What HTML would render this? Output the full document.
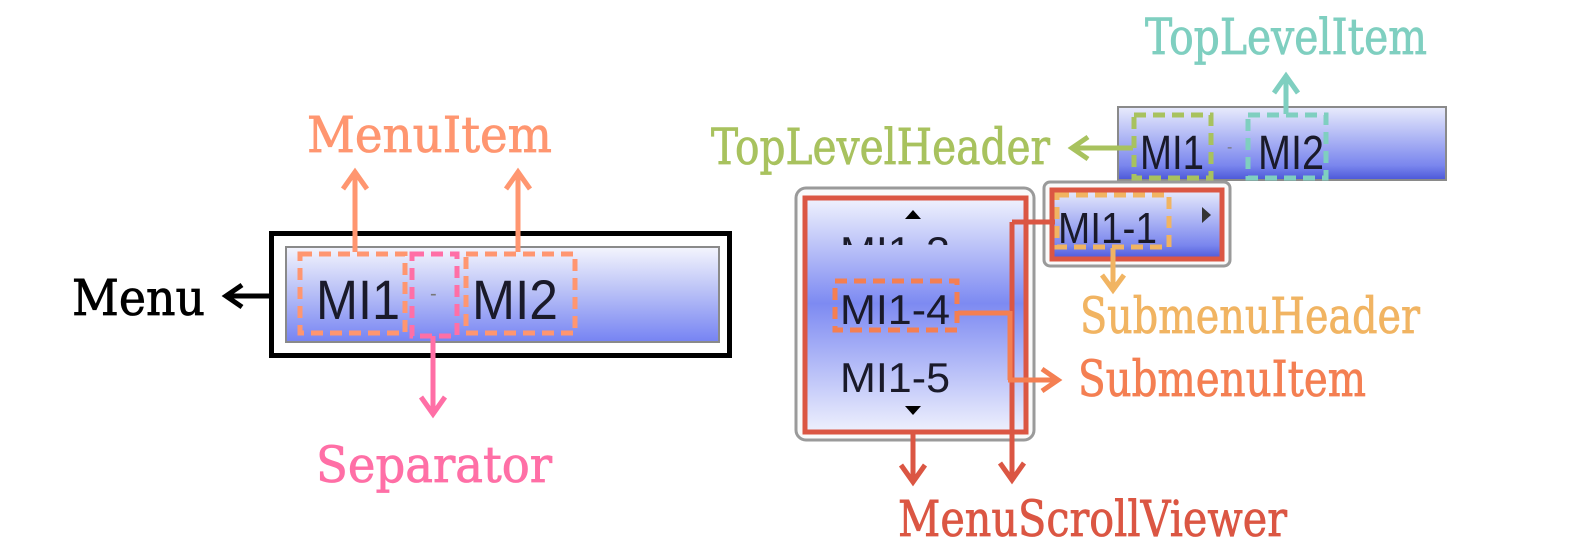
<!DOCTYPE html>
<html><head><meta charset="utf-8"><style>html,body{margin:0;padding:0;background:#fff}svg{display:block}</style></head>
<body>
<svg width="1569" height="555" viewBox="0 0 1569 555" xmlns="http://www.w3.org/2000/svg" font-family="'DejaVu Serif', 'Liberation Serif', serif">
<defs>
<linearGradient id="g1" x1="0" y1="0" x2="0" y2="1"><stop offset="0" stop-color="#f4f5fd"/><stop offset="0.5" stop-color="#b5bdf6"/><stop offset="1" stop-color="#7683f3"/></linearGradient>
<linearGradient id="g2" x1="0" y1="0" x2="0" y2="1"><stop offset="0" stop-color="#f0f2fd"/><stop offset="0.45" stop-color="#7d8af2"/><stop offset="1" stop-color="#eef0fd"/></linearGradient>
<linearGradient id="g3" x1="0" y1="0" x2="0" y2="1"><stop offset="0" stop-color="#e8ebfc"/><stop offset="0.8" stop-color="#7a86ee"/><stop offset="1" stop-color="#4b57d8"/></linearGradient>
</defs>
<g fill="none" stroke-linecap="butt" stroke-linejoin="miter">
<rect x="271.5" y="233.5" width="458" height="122" stroke="#000" stroke-width="5"/>
<rect x="286" y="247" width="433" height="95" fill="url(#g1)" stroke="#8a8a8a" stroke-width="2"/>
<rect x="300" y="254" width="105" height="79" stroke="#ff9670" stroke-width="5" stroke-dasharray="12 7"/>
<rect x="412" y="254" width="45" height="82" stroke="#ff6fa6" stroke-width="5" stroke-dasharray="12 7"/>
<rect x="466" y="254" width="109" height="79" stroke="#ff9670" stroke-width="5" stroke-dasharray="12 7"/>
<line x1="355" y1="252" x2="355" y2="172" stroke="#ff9670" stroke-width="5"/>
<polyline points="343,189 355,172 367,189" stroke="#ff9670" stroke-width="5"/>
<line x1="518" y1="252" x2="518" y2="172" stroke="#ff9670" stroke-width="5"/>
<polyline points="506,189 518,172 530,189" stroke="#ff9670" stroke-width="5"/>
<line x1="269" y1="296" x2="226" y2="296" stroke="#000" stroke-width="5"/>
<polyline points="242,285 226,296 242,307" stroke="#000" stroke-width="5"/>
<line x1="433" y1="336" x2="433" y2="414" stroke="#ff6fa6" stroke-width="5"/>
<polyline points="421,397 433,414 445,397" stroke="#ff6fa6" stroke-width="5"/>

<rect x="1118" y="107" width="328" height="73" fill="url(#g3)" stroke="#8a8a8a" stroke-width="2"/>
<rect x="1134" y="115" width="77" height="63" stroke="#a8c25e" stroke-width="5" stroke-dasharray="12 7"/>
<rect x="1248" y="115" width="78" height="63" stroke="#7fcfc0" stroke-width="5" stroke-dasharray="12 7"/>
<line x1="1286" y1="114" x2="1286" y2="76" stroke="#7fcfc0" stroke-width="5"/>
<polyline points="1274,93 1286,76 1298,93" stroke="#7fcfc0" stroke-width="5"/>
<line x1="1133" y1="148" x2="1072" y2="148" stroke="#a8c25e" stroke-width="5"/>
<polyline points="1088,137 1072,148 1088,159" stroke="#a8c25e" stroke-width="5"/>

<rect x="1044" y="182" width="186" height="84" rx="6" fill="#fafafa" stroke="#9a9a9a" stroke-width="3"/>
<rect x="1052" y="190" width="170" height="69" fill="url(#g3)" stroke="#db5643" stroke-width="5"/>
<rect x="1057" y="195" width="112" height="52" stroke="#f1b462" stroke-width="5" stroke-dasharray="12 7"/>
<polygon points="1202,207 1211,215 1202,223" fill="#333" stroke="none"/>
<line x1="1113" y1="248" x2="1113" y2="290" stroke="#f1b462" stroke-width="5"/>
<polyline points="1102,275 1113,290 1124,275" stroke="#f1b462" stroke-width="5"/>

<rect x="796" y="188" width="238" height="252" rx="10" fill="#fafafa" stroke="#9a9a9a" stroke-width="3"/>
<rect x="805" y="198" width="221" height="234" fill="url(#g2)" stroke="#db5643" stroke-width="5"/>
<polygon points="905,219 913,210 921,219" fill="#000" stroke="none"/>
<polygon points="905,406 921,406 913,415" fill="#000" stroke="none"/>
<rect x="835" y="281" width="122" height="49" stroke="#f47f52" stroke-width="5" stroke-dasharray="12 7"/>
<line x1="1055" y1="222" x2="1012" y2="222" stroke="#db5643" stroke-width="5"/>
<line x1="1012" y1="222" x2="1012" y2="480" stroke="#db5643" stroke-width="5"/>
<polyline points="1000,463 1012,480 1024,463" stroke="#db5643" stroke-width="5"/>
<line x1="958" y1="313" x2="1010" y2="313" stroke="#f47f52" stroke-width="5"/>
<line x1="1010" y1="311" x2="1010" y2="380" stroke="#f47f52" stroke-width="5"/>
<line x1="1008" y1="380" x2="1058" y2="380" stroke="#f47f52" stroke-width="5"/>
<polyline points="1042,369 1058,380 1042,391" stroke="#f47f52" stroke-width="5"/>
<line x1="913" y1="433" x2="913" y2="482" stroke="#db5643" stroke-width="5"/>
<polyline points="901,465 913,482 925,465" stroke="#db5643" stroke-width="5"/>
</g>

<g font-family="'Liberation Sans', sans-serif" fill="#1a1a2a">
<text x="316" y="319" font-size="56" textLength="84" lengthAdjust="spacingAndGlyphs">MI1</text>
<text x="430" y="300" font-size="20" fill="#777">-</text>
<text x="472" y="319" font-size="56" textLength="86" lengthAdjust="spacingAndGlyphs">MI2</text>
<text x="1140" y="169" font-size="48" textLength="64" lengthAdjust="spacingAndGlyphs">MI1</text>
<text x="1227" y="152" font-size="16" fill="#777">-</text>
<text x="1258" y="169" font-size="48" textLength="66" lengthAdjust="spacingAndGlyphs">MI2</text>
<text x="1058" y="243" font-size="44" textLength="99" lengthAdjust="spacingAndGlyphs">MI1-1</text>
<text x="840" y="324" font-size="42" textLength="110" lengthAdjust="spacingAndGlyphs">MI1-4</text>
<text x="840" y="392" font-size="42" textLength="110" lengthAdjust="spacingAndGlyphs">MI1-5</text>
<svg x="840" y="228" width="120" height="17" overflow="hidden"><text x="0" y="38" font-size="42" textLength="110" lengthAdjust="spacingAndGlyphs">MI1-3</text></svg>
</g>

<g font-size="50" stroke-width="0.8">
<text x="307" y="152" fill="#ff9670" stroke="#ff9670" textLength="245" lengthAdjust="spacingAndGlyphs">MenuItem</text>
<text x="72" y="315" fill="#000" stroke="#000" textLength="133" lengthAdjust="spacingAndGlyphs">Menu</text>
<text x="316" y="482" fill="#ff6fa6" stroke="#ff6fa6" textLength="236" lengthAdjust="spacingAndGlyphs">Separator</text>
<text x="1145" y="54" fill="#7fcfc0" stroke="#7fcfc0" textLength="282" lengthAdjust="spacingAndGlyphs">TopLevelItem</text>
<text x="711" y="164" fill="#a8c25e" stroke="#a8c25e" textLength="339" lengthAdjust="spacingAndGlyphs">TopLevelHeader</text>
<text x="1080" y="333" fill="#f1b462" stroke="#f1b462" textLength="340" lengthAdjust="spacingAndGlyphs">SubmenuHeader</text>
<text x="1078" y="396" fill="#f47f52" stroke="#f47f52" textLength="288" lengthAdjust="spacingAndGlyphs">SubmenuItem</text>
<text x="898" y="536" fill="#db5643" stroke="#db5643" textLength="389" lengthAdjust="spacingAndGlyphs">MenuScrollViewer</text>
</g>
</svg>
</body></html>
